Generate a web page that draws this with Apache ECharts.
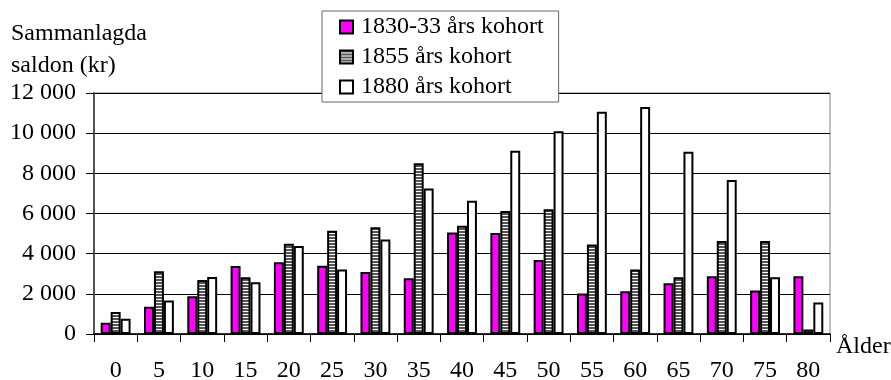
<!DOCTYPE html>
<html>
<head>
<meta charset="utf-8">
<script src="https://cdn.jsdelivr.net/npm/echarts@6/dist/echarts.min.js"></script>
<style>
html,body{margin:0;padding:0;background:#fff;}
#chart{width:891px;height:380px;}
</style>
</head>
<body>
<div id="chart"></div>
<script>
const categories = ['0','5','10','15','20','25','30','35','40','45','50','55','60','65','70','75','80'];
const seriesNames = ['1830-33 års kohort','1855 års kohort','1880 års kohort'];
const cohort1830 = [560,1360,1880,3390,3570,3400,3090,2780,5060,5030,3690,2020,2130,2530,2880,2170,2880];
const cohort1855 = [1090,3120,2690,2830,4500,5140,5320,8500,5390,6130,6210,4460,3210,2830,4630,4630,230];
const cohort1880 = [760,1670,2840,2580,4380,3210,4710,7250,6640,9120,10100,11070,11300,9070,7670,2830,1570];
const yTicks = {min:0, max:12000, interval:2000};

const FONT = "'Liberation Serif', 'Times New Roman', serif";
const FS = 24;

function stripePattern(){
  const c = document.createElement('canvas');
  c.width = 4; c.height = 3;
  const ctx = c.getContext('2d');
  ctx.fillStyle = '#ffffff'; ctx.fillRect(0,0,4,3);
  ctx.fillStyle = '#555555'; ctx.fillRect(0,0,4,2);
  return c;
}
const stripe = {image: stripePattern(), repeat: 'repeat'};

function fmt(v){ return v === 0 ? '0' : String(v).replace(/\B(?=(\d{3})+(?!\d))/g, ' '); }

const chart = echarts.init(document.getElementById('chart'), null, {renderer:'canvas'});
const barStyleBase = {borderColor:'#000', borderWidth:2};
chart.setOption({
  animation:false,
  backgroundColor:'#fff',
  textStyle:{fontFamily:FONT},
  title:{
    text:'Sammanlagda\nsaldon (kr)',
    left:6, top:13,
    textStyle:{fontFamily:FONT, fontSize:FS, fontWeight:'normal', color:'#000', lineHeight:32}
  },
  legend:{
    orient:'vertical',
    left:322, top:11,
    padding:[4,15,3,17],
    backgroundColor:'#fff',
    borderColor:'#666',
    borderWidth:1,
    itemWidth:13, itemHeight:13,
    itemGap:6,
    icon:'rect',
    z:10,
    textStyle:{fontFamily:FONT, fontSize:FS, color:'#000', padding:[0,0,0,3]},
    data:seriesNames
  },
  grid:{
    left:94, right:61, top:93, bottom:46,
    show:true, borderColor:'#808080', borderWidth:1,
    containLabel:false,
    outerBoundsMode:'none'
  },
  xAxis:{
    type:'category',
    data:categories,
    name:'Ålder',
    nameLocation:'end',
    nameGap:6,
    nameTextStyle:{fontFamily:FONT, fontSize:FS, color:'#000', verticalAlign:'top', align:'left', padding:[1,0,0,0]},
    axisLine:{lineStyle:{color:'#000', width:1.5}},
    axisTick:{show:true, length:8, lineStyle:{color:'#000', width:1}},
    axisLabel:{fontFamily:FONT, fontSize:FS, color:'#000', margin:25, interval:0}
  },
  yAxis:{
    type:'value',
    min:yTicks.min, max:yTicks.max, interval:yTicks.interval,
    axisLine:{show:true, lineStyle:{color:'#555', width:2}},
    axisTick:{show:true, length:8, lineStyle:{color:'#000', width:1}},
    axisLabel:{fontFamily:FONT, fontSize:FS, color:'#000', margin:18, formatter:fmt},
    splitLine:{lineStyle:{color:'#000', width:1}}
  },
  series:[
    {name:seriesNames[0], type:'bar', data:cohort1830, barGap:'0%', barCategoryGap:'31%',
     itemStyle:Object.assign({color:'#ff00ff'}, barStyleBase)},
    {name:seriesNames[1], type:'bar', data:cohort1855, barGap:'0%', barCategoryGap:'31%',
     itemStyle:Object.assign({color:stripe}, barStyleBase)},
    {name:seriesNames[2], type:'bar', data:cohort1880, barGap:'0%', barCategoryGap:'31%',
     itemStyle:Object.assign({color:'#ffffff'}, barStyleBase)}
  ]
});
</script>
</body>
</html>
